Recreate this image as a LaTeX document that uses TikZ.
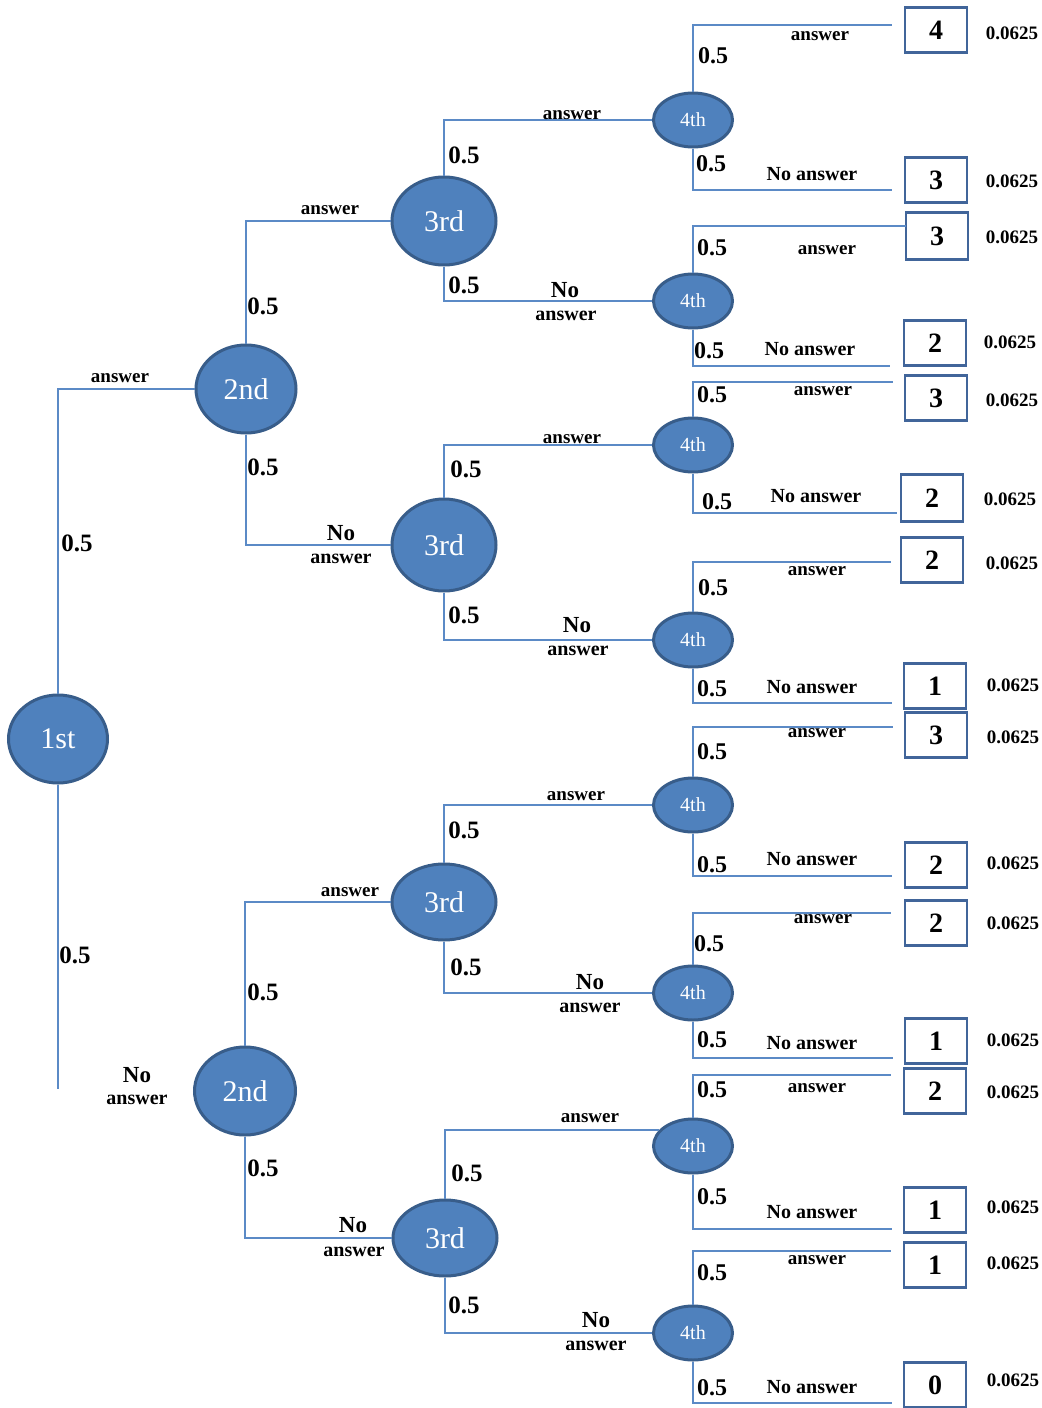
\documentclass[tikz,border=0pt]{standalone}
\usepackage{fontspec}
\setmainfont{Liberation Serif}
\usetikzlibrary{shapes.geometric}
\definecolor{nodefill}{HTML}{4F81BD}
\definecolor{nodeedge}{HTML}{385D8A}
\definecolor{wire}{HTML}{5B8AC6}
\definecolor{boxedge}{HTML}{41659A}
\begin{document}
\begin{tikzpicture}[x=0.5pt,y=-0.5pt,
  stage/.style={ellipse, fill=nodefill, draw=nodeedge, line width=1.5pt, text=white, inner sep=0pt},
  bigstage/.style={stage, minimum width=50pt, minimum height=44pt, font=\fontsize{15}{15}\selectfont},
  midstage/.style={stage, minimum width=52pt, minimum height=38pt, font=\fontsize{15}{15}\selectfont},
  smallstage/.style={stage, minimum width=39.5pt, minimum height=27pt, font=\fontsize{10}{10}\selectfont},
  conn/.style={draw=wire, line width=1.2pt},
  prob/.style={font=\fontsize{12.5}{13}\selectfont\bfseries, inner sep=0pt},
  tprob/.style={font=\fontsize{12}{13}\selectfont\bfseries, inner sep=0pt},
  lab/.style={font=\fontsize{9.5}{10}\selectfont\bfseries, inner sep=0pt},
  nolab/.style={font=\fontsize{11.5}{12}\selectfont\bfseries, inner sep=0pt},
  nalab/.style={font=\fontsize{10}{11}\selectfont\bfseries, inner sep=0pt},
  outcome/.style={draw=boxedge, line width=1.1pt, fill=white, minimum width=31pt, minimum height=22.5pt, inner sep=0pt, font=\fontsize{14}{14}\selectfont\bfseries},
  pleaf/.style={font=\fontsize{9.5}{10}\selectfont\bfseries, inner sep=0pt}]

\useasboundingbox (0,0) rectangle (1042,1408);

% ---- stage nodes ----
\node[bigstage, minimum width=49.5pt] (s1) at (58,739) {1st};
\node[bigstage] (s2a) at (246,389) {2nd};
\node[bigstage, minimum width=50.5pt] (s2b) at (245,1091) {2nd};
\node[midstage, minimum height=44pt] (s3a) at (444,221) {3rd};
\node[midstage, minimum height=46pt] (s3b) at (444,545) {3rd};
\node[midstage] (s3c) at (444,902) {3rd};
\node[midstage] (s3d) at (445,1238) {3rd};
\node[smallstage] (s4a) at (693,120) {4th};
\node[smallstage] (s4b) at (693,301) {4th};
\node[smallstage] (s4c) at (693,445) {4th};
\node[smallstage] (s4d) at (693,640) {4th};
\node[smallstage] (s4e) at (693,805) {4th};
\node[smallstage] (s4f) at (693,993) {4th};
\node[smallstage] (s4g) at (693,1146) {4th};
\node[smallstage] (s4h) at (693,1333) {4th};

% ---- outcome boxes ----
\node[outcome] (o1)  at (936,30)   {4};
\node[outcome] (o2)  at (936,180)  {3};
\node[outcome, minimum height=23.5pt] (o3)  at (937,236)  {3};
\node[outcome] (o4)  at (935,343)  {2};
\node[outcome] (o5)  at (936,398)  {3};
\node[outcome, minimum height=23.5pt] (o6)  at (932,498)  {2};
\node[outcome] (o7)  at (932,560)  {2};
\node[outcome] (o8)  at (935,686)  {1};
\node[outcome] (o9)  at (936,735)  {3};
\node[outcome] (o10) at (936,865)  {2};
\node[outcome] (o11) at (936,923)  {2};
\node[outcome] (o12) at (936,1041) {1};
\node[outcome] (o13) at (935,1091) {2};
\node[outcome] (o14) at (935,1210) {1};
\node[outcome] (o15) at (935,1265) {1};
\node[outcome] (o16) at (935,1385) {0};

% ---- free ends of the connectors ----
\coordinate (e1b) at (58,1089);
\coordinate (e1)  at (892,25);
\coordinate (e2)  at (892,190);
\coordinate (e3)  at (906,226);
\coordinate (e4)  at (890,366);
\coordinate (e5)  at (893,382);
\coordinate (e6)  at (897,513);
\coordinate (e7)  at (891,562);
\coordinate (e8)  at (892,703);
\coordinate (e9)  at (893,727);
\coordinate (e10) at (892,876);
\coordinate (e11) at (891,913);
\coordinate (e12) at (893,1058);
\coordinate (e13) at (891,1075);
\coordinate (e14) at (892,1229);
\coordinate (e15) at (891,1251);
\coordinate (e16) at (892,1403);

% ---- connectors ----
\draw[conn] (s1.north) |- (s2a.west);
\draw[conn] (s1.south) -- (e1b);
\draw[conn] (s2a.north) |- (s3a.west);
\draw[conn] (s2a.south) |- (s3b.west);
\draw[conn] (s2b.north) |- (s3c.west);
\draw[conn] (s2b.south) |- (s3d.west);
\draw[conn] (s3a.north) |- (s4a.west);
\draw[conn] (s3a.south) |- (s4b.west);
\draw[conn] (s3b.north) |- (s4c.west);
\draw[conn] (s3b.south) |- (s4d.west);
\draw[conn] (s3c.north) |- (s4e.west);
\draw[conn] (s3c.south) |- (s4f.west);
\draw[conn] (s3d.north) |- (s4g.155);
\draw[conn] (s3d.south) |- (s4h.west);
\draw[conn] (s4a.north) |- (e1);
\draw[conn] (s4a.south) |- (e2);
\draw[conn] (s4b.north) |- (e3);
\draw[conn] (s4b.south) |- (e4);
\draw[conn] (s4c.north) |- (e5);
\draw[conn] (s4c.south) |- (e6);
\draw[conn] (s4d.north) |- (e7);
\draw[conn] (s4d.south) |- (e8);
\draw[conn] (s4e.north) |- (e9);
\draw[conn] (s4e.south) |- (e10);
\draw[conn] (s4f.north) |- (e11);
\draw[conn] (s4f.south) |- (e12);
\draw[conn] (s4g.north) |- (e13);
\draw[conn] (s4g.south) |- (e14);
\draw[conn] (s4h.north) |- (e15);
\draw[conn] (s4h.south) |- (e16);

% ---- first and second level labels ----
\node[lab] (l1u) at (120,378) {answer};
\node[prob] (p1u) at (77,543) {0.5};
\node[prob] (p1d) at (75,955) {0.5};
\node[nolab] (l1dn) at (137,1075) {No};
\node[nalab] (l1da) at (137,1100) {answer};

\node[lab] (l2au) at (330,210) {answer};
\node[prob] (p2au) at (263,306) {0.5};
\node[prob] (p2ad) at (263,467) {0.5};
\node[nolab] (l2adn) at (341,533) {No};
\node[nalab] (l2ada) at (341,559) {answer};

\node[lab] (l2bu) at (350,892) {answer};
\node[prob] (p2bu) at (263,992) {0.5};
\node[prob] (p2bd) at (263,1168) {0.5};
\node[nolab] (l2bdn) at (353,1225) {No};
\node[nalab] (l2bda) at (354,1252) {answer};

% ---- third level labels ----
\node[lab] (l3au) at (572,115) {answer};
\node[prob] (p3au) at (464,155) {0.5};
\node[prob] (p3ad) at (464,285) {0.5};
\node[nolab] (l3adn) at (565,290) {No};
\node[nalab] (l3ada) at (566,316) {answer};

\node[lab] (l3bu) at (572,439) {answer};
\node[prob] (p3bu) at (466,469) {0.5};
\node[prob] (p3bd) at (464,615) {0.5};
\node[nolab] (l3bdn) at (577,625) {No};
\node[nalab] (l3bda) at (578,651) {answer};

\node[lab] (l3cu) at (576,796) {answer};
\node[prob] (p3cu) at (464,830) {0.5};
\node[prob] (p3cd) at (466,967) {0.5};
\node[nolab] (l3cdn) at (590,982) {No};
\node[nalab] (l3cda) at (590,1008) {answer};

\node[lab] (l3du) at (590,1118) {answer};
\node[prob] (p3du) at (467,1173) {0.5};
\node[prob] (p3dd) at (464,1305) {0.5};
\node[nolab] (l3ddn) at (596,1320) {No};
\node[nalab] (l3dda) at (596,1346) {answer};

% ---- fourth level labels ----
\node[tprob] (q1)  at (713,56)   {0.5};
\node[lab]   (a1)  at (820,36)   {answer};
\node[tprob] (q2)  at (711,164)  {0.5};
\node[nalab] (a2)  at (812,174)  {No answer};
\node[tprob] (q3)  at (712,248)  {0.5};
\node[lab]   (a3)  at (827,250)  {answer};
\node[tprob] (q4)  at (709,351)  {0.5};
\node[nalab] (a4)  at (810,349)  {No answer};
\node[tprob] (q5)  at (712,395)  {0.5};
\node[lab]   (a5)  at (823,391)  {answer};
\node[tprob] (q6)  at (717,502)  {0.5};
\node[nalab] (a6)  at (816,496)  {No answer};
\node[tprob] (q7)  at (713,588)  {0.5};
\node[lab]   (a7)  at (817,571)  {answer};
\node[tprob] (q8)  at (712,689)  {0.5};
\node[nalab] (a8)  at (812,687)  {No answer};
\node[tprob] (q9)  at (712,752)  {0.5};
\node[lab]   (a9)  at (817,733)  {answer};
\node[tprob] (q10) at (712,865)  {0.5};
\node[nalab] (a10) at (812,859)  {No answer};
\node[tprob] (q11) at (709,944)  {0.5};
\node[lab]   (a11) at (823,919)  {answer};
\node[tprob] (q12) at (712,1040) {0.5};
\node[nalab] (a12) at (812,1043) {No answer};
\node[tprob] (q13) at (712,1090) {0.5};
\node[lab]   (a13) at (817,1088) {answer};
\node[tprob] (q14) at (712,1197) {0.5};
\node[nalab] (a14) at (812,1212) {No answer};
\node[tprob] (q15) at (712,1273) {0.5};
\node[lab]   (a15) at (817,1260) {answer};
\node[tprob] (q16) at (712,1388) {0.5};
\node[nalab] (a16) at (812,1387) {No answer};

% ---- leaf probabilities ----
\node[pleaf] (r1)  at (1012,33)   {0.0625};
\node[pleaf] (r2)  at (1012,181)  {0.0625};
\node[pleaf] (r3)  at (1012,237)  {0.0625};
\node[pleaf] (r4)  at (1010,342)  {0.0625};
\node[pleaf] (r5)  at (1012,400)  {0.0625};
\node[pleaf] (r6)  at (1010,499)  {0.0625};
\node[pleaf] (r7)  at (1012,563)  {0.0625};
\node[pleaf] (r8)  at (1013,685)  {0.0625};
\node[pleaf] (r9)  at (1013,737)  {0.0625};
\node[pleaf] (r10) at (1013,863)  {0.0625};
\node[pleaf] (r11) at (1013,923)  {0.0625};
\node[pleaf] (r12) at (1013,1040) {0.0625};
\node[pleaf] (r13) at (1013,1092) {0.0625};
\node[pleaf] (r14) at (1013,1207) {0.0625};
\node[pleaf] (r15) at (1013,1263) {0.0625};
\node[pleaf] (r16) at (1013,1380) {0.0625};
\end{tikzpicture}
\end{document}
